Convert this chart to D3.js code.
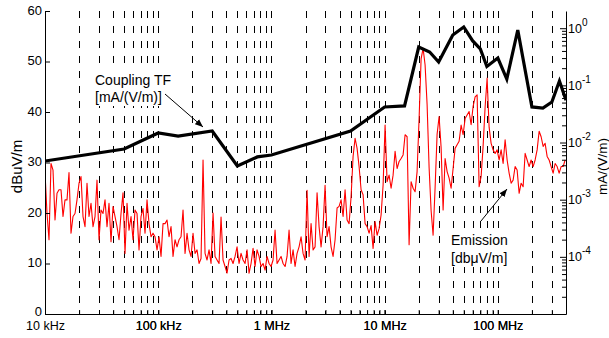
<!DOCTYPE html>
<html>
<head>
<meta charset="utf-8">
<script src="https://cdn.jsdelivr.net/npm/d3@7"></script>
<style>
  html, body { margin: 0; padding: 0; background: #fff; }
  svg { display: block; font-family: "Liberation Sans", Arial, sans-serif; }
</style>
</head>
<body>
<svg id="chart" width="609" height="338"></svg>
<script>
// ---------------- data ----------------
const freqTickValues = [1e4, 1e5, 1e6, 1e7, 1e8];
const freqTickLabels = ["10 kHz", "100 kHz", "1 MHz", "10 MHz", "100 MHz"];
const dbTickValues = [0, 10, 20, 30, 40, 50, 60];
const tfTickValues = [1e-4, 1e-3, 1e-2, 1e-1, 1e0];
const tfTickExponents = ["-4", "-3", "-2", "-1", "0"];

// Coupling transfer function [mA/(V/m)] (right axis)
const couplingFreqHz = [1e4, 5e4, 1e5, 1.5e5, 3e5, 5e5, 7.5e5, 1e6, 5e6, 1e7, 1.5e7, 2e7, 2.5e7, 3e7, 4e7, 5e7, 6e7, 7e7, 8e7, 1e8, 1.2e8, 1.5e8, 2e8, 2.5e8, 3e8, 3.5e8, 4e8];
const couplingTF = [4.75e-3, 7.7e-3, 1.47e-2, 1.30e-2, 1.59e-2, 3.9e-3, 5.6e-3, 6.05e-3, 1.59e-2, 4.19e-2, 4.36e-2, 0.469, 0.384, 0.256, 0.76, 1.05, 0.60, 0.433, 0.214, 0.301, 0.129, 0.93, 4.19e-2, 4.02e-2, 5.1e-2, 0.119, 5.5e-2];

// Emission [dBuV/m] (left axis), measured on a log sweep from start to stop
const emissionStartHz = 1e4;
const emissionStopHz = 3.93e8;
const emissionDb = [
  28, 19.9, 14.7, 29.8, 28.5, 18.6, 23.9, 24.6, 24.6, 19.3,
  22.6, 22.6, 28.0, 16.0, 19.3, 19.9, 22.6, 25.9, 27.2, 19.3,
  17.3, 25.9, 19.3, 21.9, 17.3, 19.3, 26.5, 14.7, 20.6, 19.9,
  22.6, 17.3, 21.9, 14.3, 21.3, 19.3, 17.3, 14.7, 19.9, 24.0,
  12.0, 21.9, 16.6, 19.3, 14.7, 20.6, 19.9, 12.7, 19.3, 20.9,
  16.0, 22.6, 17.9, 15.3, 16.0, 15.3, 12.7, 15.3, 11.4, 17.9,
  17.9, 18.6, 15.3, 17.3, 11.4, 14.7, 13.3, 14.7, 15.3, 20.6,
  12.0, 16.0, 12.7, 11.4, 16.0, 12.0, 12.7, 10.0, 11.0, 30.5,
  12.0, 10.7, 12.7, 10.0, 20.0, 11.4, 10.7, 10.0, 19.2, 10.7,
  9.4, 8.1, 10.7, 11.0, 10.0, 11.4, 13.3, 10.0, 12.0, 10.7,
  10.0, 12.7, 8.1, 10.0, 13.0, 9.4, 12.7, 11.4, 9.4, 10.0,
  8.7, 11.4, 10.0, 9.4, 10.7, 16.6, 10.0, 10.7, 11.4, 10.0,
  9.4, 11.4, 16.6, 10.0, 12.7, 9.4, 12.0, 13.3, 15.3, 12.0,
  10.7, 24.5, 11.4, 17.9, 12.7, 13.3, 24.0, 17.3, 13.3, 17.3,
  25.5, 15.3, 17.3, 13.3, 11.4, 14.7, 21.0, 21.3,
  22.6, 19.3, 24.6, 18.6, 17.9, 23.2, 31.2, 34.8, 32.8, 29.2,
  24.6, 23.6, 17.9, 17.3, 16.0,
  17.5, 13.0, 18.3, 15.6, 16.9, 19.6, 25.5, 37.4, 26.2, 27.5,
  24.9, 27.5, 32.2, 28.8, 30.2, 30.8, 31.5, 35.5, 35.1, 13.7,
  26.2, 24.9, 24.2, 28.2, 38.7, 50.5, 52.6, 49.3, 41.5, 29.0,
  20.5, 15.6, 25.0, 35.6, 39.1, 33.0, 20.6, 30.8, 28.2, 26.9,
  24.9, 28.8, 32.8, 33.5, 34.2, 37.4, 35.5, 38.7, 39.4, 40.1,
  37.5, 41.1, 43.0, 43.4, 25.2, 27.2, 33.2, 41.0, 46.7, 37.0,
  33.8, 32.5, 31.8, 32.5, 30.5, 32.5, 29.8, 34.5, 30.5, 27.9,
  25.9, 26.5, 29.2, 28.5, 23.9, 25.9, 25.2, 31.8, 30.5, 29.2,
  30.5, 29.2, 30.5, 32.5, 36.2, 35.1, 33.2, 33.8, 31.2, 30.5,
  29.2, 27.9, 29.8, 29.2, 27.9, 29.2, 29.2, 30.5
];

// ---------------- layout ----------------
const L = 45, R = 566, T = 11, B = 314;
const svg = d3.select("#chart");
const defs = svg.append("defs");

const x = d3.scaleLog().domain([1e4, 4e8]).range([L, R]);
const yL = d3.scaleLinear().domain([0, 60]).range([B, T]);
const yR = d3.scaleLog().domain([1e-5, 2]).range([B, T]);

// minor/major frequency grid values
const freqGrid = [];
for (let d = 1e4; d < 4e8; d *= 10) {
  for (let m = 1; m <= 9; m++) {
    const v = d * m;
    if (v > 1e4 && v < 4e8) freqGrid.push(v);
  }
}

// dashed vertical grid
svg.append("g").selectAll("line").data(freqGrid).join("line")
  .attr("x1", d => Math.round(x(d)) + 0.5).attr("x2", d => Math.round(x(d)) + 0.5)
  .attr("y1", T).attr("y2", B)
  .attr("stroke", "#000").attr("stroke-width", 1)
  .attr("stroke-dasharray", "7,8");

// white boxes behind annotations (hide the grid like the reference)
svg.append("rect").attr("x", 92).attr("y", 70).attr("width", 80).attr("height", 36).attr("fill", "#fff");
svg.append("rect").attr("x", 448).attr("y", 231).attr("width", 63).attr("height", 36).attr("fill", "#fff");

// emission trace
const emissionFreq = emissionDb.map((_, i) =>
  emissionStartHz * Math.pow(emissionStopHz / emissionStartHz, i / (emissionDb.length - 1)));
defs.append("clipPath").attr("id", "plotclip")
  .append("rect").attr("x", L).attr("y", T).attr("width", R - L).attr("height", B - T);

svg.append("path")
  .datum(emissionDb.map((v, i) => [emissionFreq[i], v]))
  .attr("clip-path", "url(#plotclip)")
  .attr("fill", "none").attr("stroke", "#ff0000").attr("stroke-width", 1.1)
  .attr("stroke-linejoin", "round")
  .attr("d", d3.line().x(d => x(d[0])).y(d => yL(d[1])));

// coupling TF
svg.append("path")
  .datum(couplingTF.map((v, i) => [couplingFreqHz[i], v]))
  .attr("clip-path", "url(#plotclip)")
  .attr("fill", "none").attr("stroke", "#000").attr("stroke-width", 3.2)
  .attr("stroke-linejoin", "miter")
  .attr("d", d3.line().x(d => x(d[0])).y(d => yR(d[1])));

// ---------------- axes ----------------
const tickFont = 13;

// bottom
const bottomAxis = d3.axisBottom(x)
  .tickValues(freqGrid.concat(freqTickValues))
  .tickSizeInner(-4).tickSizeOuter(0).tickPadding(7)
  .tickFormat(d => {
    const i = freqTickValues.indexOf(d);
    return i >= 0 ? freqTickLabels[i] : "";
  });
const gB = svg.append("g").attr("transform", `translate(0,${B})`).call(bottomAxis);

// left
const leftAxis = d3.axisLeft(yL).tickValues(dbTickValues)
  .tickSizeInner(-5).tickSizeOuter(0).tickPadding(3)
  .tickFormat(d3.format("d"));
const gL = svg.append("g").attr("transform", `translate(${L},0)`).call(leftAxis);

// right (log) with minor ticks
const tfMinor = [];
for (let d = 1e-5; d < 2; d *= 10) {
  for (let m = 2; m <= 9; m++) {
    const v = d * m;
    if (v < 2) tfMinor.push(v);
  }
}
const rightAxis = d3.axisRight(yR).tickValues(tfMinor.concat(tfTickValues))
  .tickSizeInner(-4).tickSizeOuter(0).tickPadding(2)
  .tickFormat(() => "");
const gR = svg.append("g").attr("transform", `translate(${R},0)`).call(rightAxis);
gR.selectAll(".tick").filter(d => tfTickValues.includes(d)).select("line").attr("x2", -6);

[gB, gL, gR].forEach(g => {
  g.selectAll("path.domain").attr("stroke", "#000").attr("stroke-width", 1);
  g.selectAll(".tick line").attr("stroke", "#000");
  g.selectAll("text").attr("font-size", tickFont).attr("fill", "#000")
    .attr("font-family", "Liberation Sans, Arial, sans-serif");
});
gB.selectAll(".tick").filter(d => !freqTickValues.includes(d)).select("text").remove();
gB.selectAll(".tick text").attr("font-size", 12.5);
gL.selectAll(".tick text").attr("dy", "0.25em");
gL.selectAll(".tick").filter(d => d === 0).select("text").attr("dy", "0.1em");

// right axis labels 10^n
const rLab = svg.append("g");
tfTickValues.forEach((v, i) => {
  const t = rLab.append("text")
    .attr("x", R + 2).attr("y", yR(v) + 4.5)
    .attr("font-size", 12.5).attr("fill", "#000");
  t.append("tspan").text("10");
  t.append("tspan").attr("dy", -7).attr("font-size", 10).text(tfTickExponents[i]);
});

// axis titles
svg.append("text")
  .attr("transform", `translate(22,${(T + B) / 2 + 4}) rotate(-90)`)
  .attr("text-anchor", "middle").attr("font-size", 15).attr("fill", "#000")
  .text("dBuV/m");
svg.append("text")
  .attr("transform", `translate(607,${(T + B) / 2 + 4}) rotate(-90)`)
  .attr("text-anchor", "middle").attr("font-size", 13.5).attr("fill", "#000")
  .text("mA/(V/m)");

// ---------------- annotations ----------------
defs.append("marker").attr("id", "arrow")
  .attr("viewBox", "0 0 10 10").attr("refX", 10).attr("refY", 5)
  .attr("markerWidth", 8).attr("markerHeight", 8).attr("markerUnits", "userSpaceOnUse")
  .attr("orient", "auto")
  .append("path").attr("d", "M0,1 L10,5 L0,9 Z").attr("fill", "#000");

const annFont = 14;
svg.append("text").attr("x", 95).attr("y", 85).attr("font-size", annFont).text("Coupling TF");
svg.append("text").attr("x", 95).attr("y", 102).attr("font-size", annFont).text("[mA/(V/m)]");
svg.append("line").attr("x1", 165).attr("y1", 94).attr("x2", 203).attr("y2", 127)
  .attr("stroke", "#000").attr("stroke-width", 1).attr("marker-end", "url(#arrow)");

svg.append("text").attr("x", 451).attr("y", 245).attr("font-size", annFont).text("Emission");
svg.append("text").attr("x", 451).attr("y", 263).attr("font-size", annFont).text("[dbμV/m]");
svg.append("line").attr("x1", 481).attr("y1", 221).attr("x2", 507).attr("y2", 189)
  .attr("stroke", "#000").attr("stroke-width", 1).attr("marker-end", "url(#arrow)");
</script>
</body>
</html>
